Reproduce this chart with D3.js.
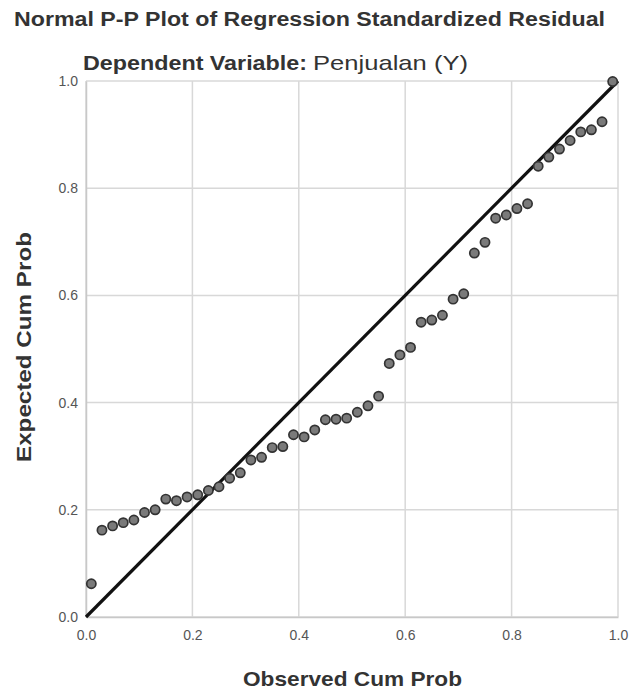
<!DOCTYPE html>
<html>
<head>
<meta charset="utf-8">
<script src="https://cdn.jsdelivr.net/npm/d3@7/dist/d3.min.js"></script>
<style>
html,body{margin:0;padding:0;background:#fff;}
svg{display:block;font-family:"Liberation Sans",Arial,sans-serif;}
</style>
</head>
<body>
<svg id="chart" width="629" height="691"></svg>
<script>
const titleText = "Normal P-P Plot of Regression Standardized Residual";
const subtitleLabel = "Dependent Variable:";
const subtitleValue = "Penjualan (Y)";
const xLabel = "Observed Cum Prob";
const yLabel = "Expected Cum Prob";
const tickValues = [0, 0.2, 0.4, 0.6, 0.8, 1.0];

const observed = [0.01,0.03,0.05,0.07,0.09,0.11,0.13,0.15,0.17,0.19,
                  0.21,0.23,0.25,0.27,0.29,0.31,0.33,0.35,0.37,0.39,
                  0.41,0.43,0.45,0.47,0.49,0.51,0.53,0.55,0.57,0.59,
                  0.61,0.63,0.65,0.67,0.69,0.71,0.73,0.75,0.77,0.79,
                  0.81,0.83,0.85,0.87,0.89,0.91,0.93,0.95,0.97,0.99];
const expected = [0.062,0.162,0.170,0.176,0.181,0.195,0.200,0.220,0.217,0.224,
                  0.228,0.236,0.243,0.259,0.269,0.293,0.298,0.316,0.318,0.340,
                  0.336,0.349,0.368,0.369,0.371,0.382,0.394,0.412,0.473,0.489,
                  0.503,0.550,0.554,0.563,0.593,0.603,0.679,0.699,0.744,0.750,
                  0.762,0.771,0.841,0.858,0.873,0.889,0.905,0.909,0.924,0.999];

const svg = d3.select("#chart");
const pLeft = 86, pRight = 618, pTop = 81, pBottom = 617;

const x = d3.scaleLinear().domain([0, 1]).range([pLeft, pRight]);
const y = d3.scaleLinear().domain([0, 1]).range([pBottom, pTop]);

// title
svg.append("text").attr("x", 14).attr("y", 26)
  .attr("font-size", 20).attr("font-weight", "bold")
  .attr("textLength", 591).attr("lengthAdjust", "spacingAndGlyphs")
  .attr("fill", "#333").text(titleText);
svg.append("text").attr("x", 83).attr("y", 70)
  .attr("font-size", 20).attr("font-weight", "bold")
  .attr("textLength", 224).attr("lengthAdjust", "spacingAndGlyphs")
  .attr("fill", "#333").text(subtitleLabel);
svg.append("text").attr("x", 313).attr("y", 70)
  .attr("font-size", 21)
  .attr("textLength", 155).attr("lengthAdjust", "spacingAndGlyphs")
  .attr("fill", "#333").text(subtitleValue);

// grid
const g = svg.append("g");
g.selectAll("line.vg").data(tickValues).join("line")
  .attr("class", "vg")
  .attr("x1", d => x(d)).attr("x2", d => x(d))
  .attr("y1", pTop).attr("y2", pBottom)
  .attr("stroke", "#d8d8d8").attr("stroke-width", 1.5);
g.selectAll("line.hg").data(tickValues).join("line")
  .attr("class", "hg")
  .attr("y1", d => y(d)).attr("y2", d => y(d))
  .attr("x1", pLeft).attr("x2", pRight)
  .attr("stroke", "#d8d8d8").attr("stroke-width", 1.5);

// axes
const xAxis = d3.axisBottom(x).tickValues(tickValues).tickFormat(d3.format(".1f")).tickSize(0).tickPadding(13);
const yAxis = d3.axisLeft(y).tickValues(tickValues).tickFormat(d3.format(".1f")).tickSize(0).tickPadding(8);
const gx = svg.append("g").attr("transform", `translate(0,${pBottom})`).call(xAxis);
const gy = svg.append("g").attr("transform", `translate(${pLeft},0)`).call(yAxis);
[gx, gy].forEach(a => {
  a.select(".domain").attr("stroke", "#c8c8c8").attr("stroke-width", 1.5);
  a.selectAll("text").attr("font-size", 14).attr("fill", "#555")
    .attr("font-family", "'Liberation Sans',Arial,sans-serif");
});

// diagonal reference line
svg.append("line")
  .attr("x1", x(0)).attr("y1", y(0)).attr("x2", x(1)).attr("y2", y(1))
  .attr("stroke", "#111").attr("stroke-width", 3.2);

// points
const pts = observed.map((o, i) => ({o, e: expected[i]}));
svg.append("g").selectAll("circle").data(pts).join("circle")
  .attr("cx", d => x(d.o)).attr("cy", d => y(d.e)).attr("r", 4.6)
  .attr("fill", "#7a7a7a").attr("stroke", "#333").attr("stroke-width", 1.7);

// axis labels
svg.append("text").attr("x", 243).attr("y", 686)
  .attr("font-size", 21).attr("font-weight", "bold")
  .attr("textLength", 219).attr("lengthAdjust", "spacingAndGlyphs")
  .attr("fill", "#333").text(xLabel);
svg.append("text").attr("transform", "translate(31,462) rotate(-90)")
  .attr("font-size", 21).attr("font-weight", "bold")
  .attr("textLength", 230).attr("lengthAdjust", "spacingAndGlyphs")
  .attr("fill", "#333").text(yLabel);
</script>
</body>
</html>
